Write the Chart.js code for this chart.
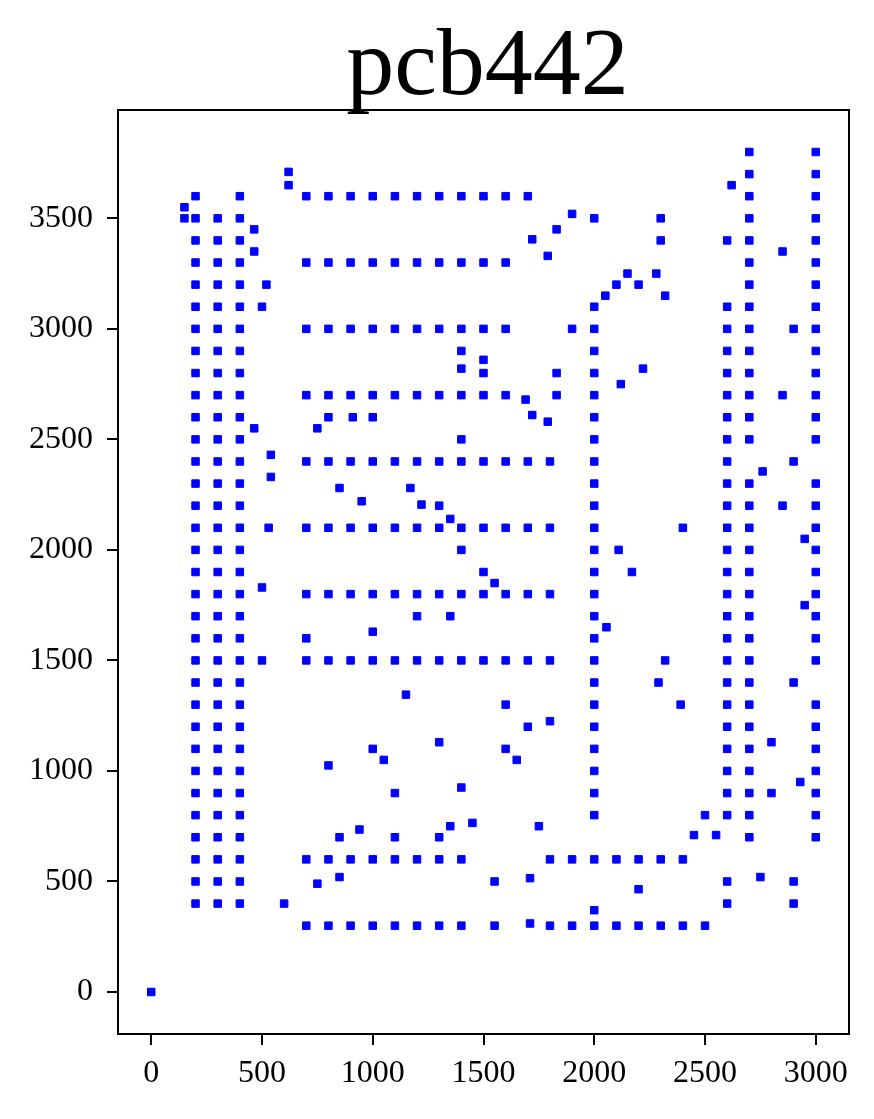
<!DOCTYPE html>
<html><head><meta charset="utf-8">
<script src="https://cdn.jsdelivr.net/npm/chart.js@4.4.1/dist/chart.umd.min.js"></script>
<style>html,body{margin:0;padding:0;background:#fff;} canvas{display:block;}</style>
</head><body>
<canvas id="c" width="874" height="1119"></canvas>
<script>
const chartTitle = 'pcb442';
const xTicks = [0, 500, 1000, 1500, 2000, 2500, 3000];
const yTicks = [0, 500, 1000, 1500, 2000, 2500, 3000, 3500];

// vertical drill columns: x value -> list of y values
const col200 = [400,500,600,700,800,900,1000,1100,1200,1300,1400,1500,1600,1700,1800,1900,2000,2100,2200,2300,2400,2500,2600,2700,2800,2900,3000,3100,3200,3300,3400,3500,3600];
const col300 = [400,500,600,700,800,900,1000,1100,1200,1300,1400,1500,1600,1700,1800,1900,2000,2100,2200,2300,2400,2500,2600,2700,2800,2900,3000,3100,3200,3300,3400,3500];
const col400 = [400,500,600,700,800,900,1000,1100,1200,1300,1400,1500,1600,1700,1800,1900,2000,2100,2200,2300,2400,2500,2600,2700,2800,2900,3000,3100,3200,3300,3400,3500,3600];
const col2000 = [370,800,900,1000,1100,1200,1300,1400,1500,1600,1700,1800,1900,2000,2100,2200,2300,2400,2500,2600,2700,2800,2900,3000,3100,3500];
const col2600 = [400,500,800,900,1000,1100,1200,1300,1400,1500,1600,1700,1800,1900,2000,2100,2200,2300,2400,2500,2600,2700,2800,2900,3000,3100,3400];
const col2700 = [700,800,900,1000,1100,1200,1300,1400,1500,1600,1700,1800,1900,2000,2100,2200,2300,2500,2600,2700,2800,2900,3000,3100,3200,3300,3400,3500,3600,3700,3800];
const col3000 = [700,800,900,1000,1100,1200,1300,1500,1600,1700,1800,1900,2000,2100,2200,2300,2500,2600,2700,2800,2900,3000,3100,3200,3300,3400,3500,3600,3700,3800];

// horizontal rows: y value -> list of x values
const row300 = [700,800,900,1000,1100,1200,1300,1400,1550,1800,1900,2000,2100,2200,2300,2400,2500];
const row600 = [700,800,900,1000,1100,1200,1300,1400,1800,1900,2000,2100,2200,2300,2400];
const row1500 = [700,800,900,1000,1100,1200,1300,1400,1500,1600,1700,1800];
const row1800 = [700,800,900,1000,1100,1200,1300,1400,1500,1600,1700,1800];
const row2100 = [700,800,900,1000,1100,1200,1300,1400,1500,1600,1700,1800];
const row2400 = [700,800,900,1000,1100,1200,1300,1400,1500,1600,1700,1800];
const row2600 = [800,910,1000];
const row2700 = [700,800,900,1000,1100,1200,1300,1400,1500,1600];
const row3000 = [700,800,900,1000,1100,1200,1300,1400,1500,1600,1900];
const row3300 = [700,800,900,1000,1100,1200,1300,1400,1500,1600];
const row3600 = [700,800,900,1000,1100,1200,1300,1400,1500,1600,1700];

// isolated holes [x, y]
const leftExtras = [[150,3550],[150,3500],[620,3710],[620,3650],[465,3450],[465,3350],[520,3200],[500,3100],[465,2550],[750,2550],[540,2430],[540,2330],[850,2280],[950,2220],[530,2100],[500,1830],[500,1500],[700,1600],[600,400]];
const rightExtras = [[1900,3520],[1830,3450],[1720,3405],[1790,3330],[2050,3150],[2100,3200],[2150,3250],[2200,3200],[2280,3250],[2320,3150],[2300,3500],[2300,3400],[2620,3650],[2850,3350],[2900,3000],[2220,2820],[2120,2750],[2850,2700],[1400,2900],[1500,2860],[1400,2820],[1500,2800],[1830,2800],[1690,2680],[1830,2700],[1720,2610],[1790,2580],[1400,2500],[2900,2400],[2760,2355],[2850,2200],[2400,2100],[2950,2050],[2110,2000],[2170,1900],[2950,1750],[2055,1650],[2320,1500],[2290,1400],[2900,1400],[2390,1300],[2800,1130],[2930,950],[2800,900],[2500,800],[2450,710],[2550,710],[2200,465],[2750,520],[2900,500],[2900,400]];
const middleExtras = [[1170,2280],[1220,2205],[1300,2200],[1350,2140],[1400,2000],[1500,1900],[1550,1850],[1200,1700],[1350,1700],[1000,1630],[1150,1345],[1600,1300],[1700,1200],[1800,1225],[1300,1130],[1000,1100],[1050,1050],[1600,1100],[1650,1050],[1100,900],[1400,925],[800,1025],[940,735],[850,700],[1350,750],[1450,765],[1750,750],[1100,700],[1300,700],[750,490],[850,520],[1550,500],[1710,515],[1710,310],[0,0]];

const pts = [];
const addCol = (x, ys) => ys.forEach(y => pts.push({x: x, y: y}));
const addRow = (y, xs) => xs.forEach(x => pts.push({x: x, y: y}));
addCol(200, col200); addCol(300, col300); addCol(400, col400);
addCol(2000, col2000); addCol(2600, col2600); addCol(2700, col2700); addCol(3000, col3000);
addRow(300, row300); addRow(600, row600); addRow(1500, row1500); addRow(1800, row1800);
addRow(2100, row2100); addRow(2400, row2400); addRow(2600, row2600); addRow(2700, row2700);
addRow(3000, row3000); addRow(3300, row3300); addRow(3600, row3600);
[leftExtras, rightExtras, middleExtras].forEach(g => g.forEach(p => pts.push({x: p[0], y: p[1]})));

const FONT = 'Liberation Serif';

const framePlugin = {
  id: 'frame',
  afterDraw(chart) {
    const {ctx, chartArea: a} = chart;
    ctx.save();
    ctx.strokeStyle = '#000';
    ctx.lineWidth = 2;
    ctx.strokeRect(a.left, a.top, a.right - a.left, a.bottom - a.top);
    ctx.restore();
  }
};
const titlePlugin = {
  id: 'titleText',
  afterDraw(chart) {
    const {ctx, chartArea: a} = chart;
    ctx.save();
    ctx.font = '96px "' + FONT + '"';
    ctx.fillStyle = '#000';
    ctx.textAlign = 'center';
    ctx.textBaseline = 'alphabetic';
    ctx.fillText(chartTitle, (a.left + a.right) / 2 + 4, 94);
    ctx.restore();
  }
};

new Chart(document.getElementById('c'), {
  type: 'scatter',
  data: { datasets: [{
    data: pts,
    pointStyle: 'rect',
    pointRadius: 5.3,
    pointHoverRadius: 5.3,
    backgroundColor: '#0000ff',
    borderColor: '#0000ff',
    borderWidth: 1
  }]},
  options: {
    responsive: false,
    animation: false,
    events: [],
    layout: { padding: { top: 110, right: 25, left: 0, bottom: 0 } },
    plugins: { legend: { display: false }, tooltip: { enabled: false }, title: { display: false } },
    scales: {
      x: {
        type: 'linear', min: -150, max: 3150,
        afterBuildTicks: s => { s.ticks = xTicks.map(v => ({value: v})); },
        afterFit: s => { s.height = 85; },
        grid: { drawOnChartArea: false, drawTicks: true, tickLength: 11, color: '#000', lineWidth: 2 },
        border: { display: true, color: '#000', width: 2 },
        ticks: { font: { family: FONT, size: 32 }, color: '#000', padding: 9, maxRotation: 0, autoSkip: false, callback: v => String(v) }
      },
      y: {
        type: 'linear', min: -190, max: 3990,
        afterBuildTicks: s => { s.ticks = yTicks.map(v => ({value: v})); },
        afterFit: s => { s.width = 118; },
        grid: { drawOnChartArea: false, drawTicks: true, tickLength: 11, color: '#000', lineWidth: 2 },
        border: { display: true, color: '#000', width: 2 },
        ticks: { font: { family: FONT, size: 32 }, color: '#000', padding: 14, autoSkip: false, callback: v => String(v) }
      }
    }
  },
  plugins: [framePlugin, titlePlugin]
});
</script>
</body></html>
